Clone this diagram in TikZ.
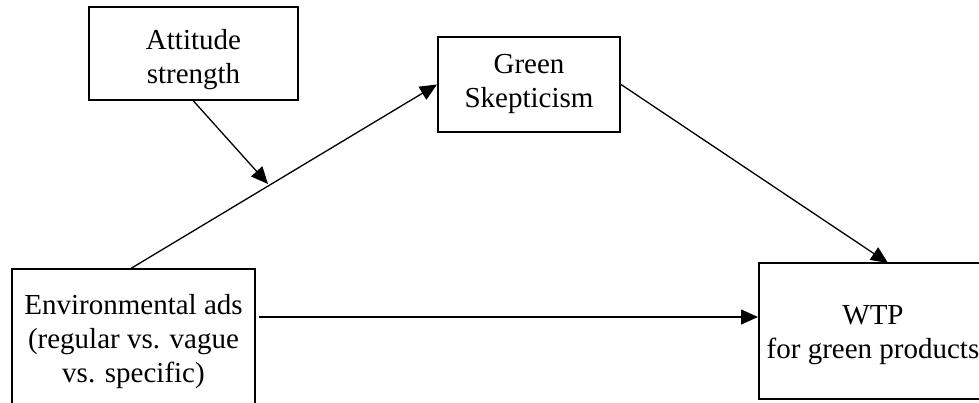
\documentclass[tikz,border=0pt]{standalone}
\usepackage{fontspec}
\setmainfont{Liberation Serif}
\usetikzlibrary{arrows.meta}
\tikzset{
  boxnode/.style={draw=black, line width=2pt, rectangle, inner sep=0pt},
  txt/.style={align=center, inner sep=0pt, font=\fontsize{29}{34}\selectfont},
  conn/.style={line width=1.3pt, -{Triangle[length=17pt,width=15pt]}},
  plain/.style={line width=1.3pt}
}
\begin{document}
\begin{tikzpicture}[x=1pt,y=-1pt]
\useasboundingbox (0,0) rectangle (979,402);
\fill[white] (0,0) rectangle (979,402);
% boxes
\node[boxnode, minimum width=209pt, minimum height=93pt] (att) at (193.5,53.5) {};
\node[boxnode, minimum width=182pt, minimum height=95pt] (green) at (529,84.5) {};
\node[boxnode, minimum width=243pt, minimum height=145pt] (env) at (133.5,341.5) {};
\node[boxnode, minimum width=228pt, minimum height=136pt] (wtp) at (873,331) {};
% texts
\node[txt] (attT) at (193.5,60) {Attitude\\strength};
\node[txt] (greenT) at (529,84) {Green\\Skepticism};
\node[txt] (envT) at (133.5,341.5) {Environmental ads\\(regular vs. vague\\vs. specific)};
\node[txt] (wtpT) at (873,335) {WTP\\for green products};
% connector coordinates
\coordinate (envTop) at (130,269);
\coordinate (modTip) at (268,184);
\coordinate (wtpTop) at (888,263);
\coordinate (envOut) at (259,317);
\coordinate (wtpIn) at (wtp.west |- envOut);
% connectors
\draw[conn] (envTop) -- (green.west);
\draw[conn] (att.south) -- (modTip);
\draw[conn] (green.east) -- (wtpTop);
\draw[conn] (envOut) -- (wtpIn);
\end{tikzpicture}
\end{document}
